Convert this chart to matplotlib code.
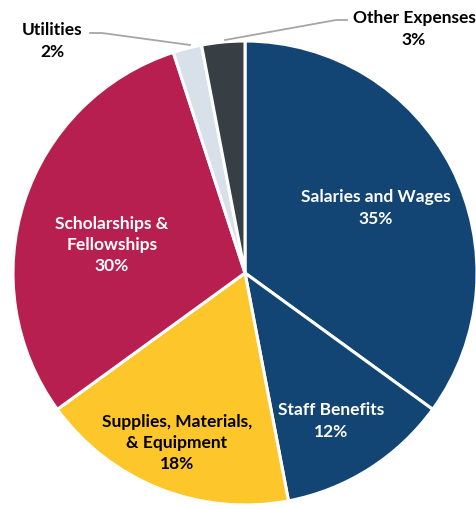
import matplotlib.pyplot as plt
import matplotlib.transforms as mtransforms

# Expense categories, share of total (%)
labels = ["Salaries and Wages", "Staff Benefits", "Supplies, Materials,\n& Equipment",
          "Scholarships &\nFellowships", "Utilities", "Other Expenses"]
shares = [35, 12, 18, 30, 2, 3]
colors = ["#134574", "#134574", "#FDC62A", "#B81F51", "#D8E0E9", "#373E44"]

plt.rcParams['font.family'] = ['Lato', 'DejaVu Sans']

W, H = 477, 510
fig = plt.figure(figsize=(W / 100, H / 100), dpi=100)
ax = fig.add_axes([0, 0, 1, 1])
ax.axis('off')

cx, cy, r = 245, 274, 232
wedges, _ = ax.pie(shares, colors=colors, startangle=90, counterclock=False,
                   center=(cx, -cy), radius=r,
                   wedgeprops=dict(edgecolor='white', linewidth=2.2))
# pie draws with y up; flip the wedges into the pixel frame
flip = mtransforms.Affine2D().scale(1, -1) + ax.transData
for w in wedges:
    w.set_transform(flip)
ax.set_xlim(0, W)
ax.set_ylim(H, 0)
ax.set_aspect('equal')

fs = 12.5
ls = 1.4
positions = [(376, 208), (331, 421), (177, 443), (112, 245), (52, 41), (414, 29)]
text_colors = ['white', 'white', 'black', 'white', 'black', 'black']
for lab, v, (x, y), tc in zip(labels, shares, positions, text_colors):
    ax.text(x, y, f"{lab}\n{v}%", color=tc, fontsize=fs, fontweight='bold',
            ha='center', va='center', linespacing=ls)

# leader lines for the two small slices
ax.plot([90, 102, 190], [34, 34, 46], color='#A6A6A6', lw=1.3)
ax.plot([347, 336, 225], [21, 21, 41], color='#A6A6A6', lw=1.3)

fig.savefig("out.png", dpi=100)
